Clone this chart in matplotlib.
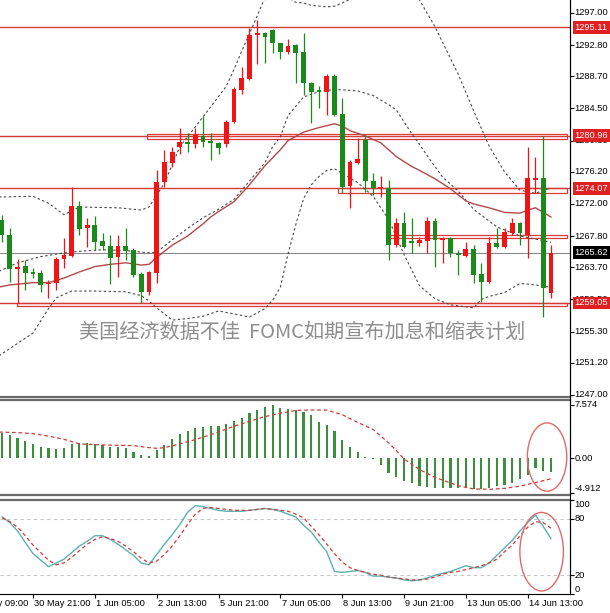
import numpy as np
import matplotlib
matplotlib.use('Agg')
from matplotlib import pyplot as plt
from matplotlib.patches import Rectangle, Ellipse
from matplotlib.lines import Line2D

plt.rcParams['font.family'] = ['Liberation Sans', 'DejaVu Sans', 'Noto Sans CJK SC']

# ---- price bars (4H), bar index 0 = 30 May 21:00 ----
bars = np.arange(-4, 68)
opens = [1269.90, 1267.94, 1263.49, 1263.88, 1263.09, 1262.96, 1261.52, 1261.65, 1264.80, 1265.19,
         1271.73, 1268.85, 1269.25, 1267.15, 1266.50, 1265.06, 1266.50, 1265.98, 1262.83, 1260.48,
         1262.96, 1274.88, 1277.36, 1279.46, 1280.11, 1279.85, 1280.90, 1280.24, 1279.98, 1279.85,
         1282.73, 1286.92, 1288.36, 1294.12, 1294.38, 1294.77, 1293.07, 1291.89, 1292.81, 1291.89,
         1287.84, 1286.92, 1286.66, 1288.75, 1283.78, 1274.35, 1277.36, 1280.37, 1275.01, 1274.09,
         1274.09, 1266.63, 1269.51, 1267.15, 1266.89, 1267.15, 1269.77, 1267.28, 1267.55, 1265.58,
         1265.19, 1266.11, 1262.83, 1261.79, 1266.89, 1266.37, 1268.20, 1269.51, 1267.94, 1275.14,
         1275.40, 1260.35]
highs = [1270.56, 1268.85, 1264.80, 1264.67, 1263.62, 1263.36, 1262.05, 1265.06, 1267.55, 1274.22,
         1272.39, 1270.16, 1270.43, 1268.20, 1267.94, 1267.94, 1268.85, 1266.24, 1263.09, 1263.23,
         1276.45, 1279.06, 1279.46, 1281.95, 1281.29, 1281.95, 1283.52, 1281.29, 1280.11, 1282.99,
         1287.31, 1289.93, 1295.03, 1296.08, 1294.51, 1294.90, 1293.11, 1293.59, 1292.94, 1294.38,
         1287.97, 1287.44, 1289.01, 1289.01, 1285.87, 1277.76, 1280.63, 1281.03, 1276.05, 1275.66,
         1275.14, 1270.16, 1270.95, 1270.16, 1267.68, 1270.29, 1270.16, 1267.68, 1267.68, 1265.98,
         1267.02, 1266.63, 1264.27, 1267.68, 1268.85, 1268.85, 1270.16, 1269.64, 1279.46, 1278.15,
         1280.96, 1266.63]
lows = [1267.02, 1261.79, 1259.10, 1260.74, 1262.31, 1260.48, 1259.69, 1260.74, 1263.62, 1265.00,
        1267.94, 1266.37, 1265.98, 1265.98, 1261.52, 1262.44, 1264.67, 1262.44, 1259.03, 1260.09,
        1261.65, 1274.22, 1276.84, 1278.54, 1278.80, 1279.33, 1279.46, 1277.76, 1278.54, 1279.46,
        1282.60, 1286.40, 1288.20, 1290.32, 1290.45, 1291.76, 1290.98, 1291.63, 1287.84, 1286.27,
        1282.60, 1284.56, 1283.65, 1283.50, 1273.44, 1271.47, 1277.23, 1273.57, 1273.17, 1272.91,
        1264.67, 1266.37, 1266.24, 1265.58, 1266.50, 1265.58, 1263.75, 1264.27, 1265.06, 1262.70,
        1265.06, 1261.65, 1259.17, 1261.65, 1266.24, 1266.24, 1267.94, 1266.63, 1264.93, 1273.44,
        1257.20, 1259.69]
closes = [1267.94, 1263.49, 1263.75, 1262.96, 1262.83, 1261.39, 1261.65, 1264.80, 1265.32, 1271.73,
          1268.72, 1269.25, 1267.02, 1266.50, 1264.93, 1266.50, 1265.84, 1262.70, 1260.48, 1263.09,
          1274.88, 1277.49, 1278.80, 1280.11, 1279.85, 1281.03, 1280.11, 1279.98, 1279.33, 1282.73,
          1287.05, 1288.49, 1294.12, 1294.38, 1293.86, 1293.07, 1291.89, 1292.68, 1291.76, 1287.84,
          1286.66, 1286.72, 1288.75, 1283.65, 1274.22, 1277.49, 1277.89, 1275.01, 1274.09, 1274.22,
          1266.63, 1269.51, 1266.37, 1266.89, 1267.28, 1269.77, 1267.28, 1267.55, 1265.58, 1265.32,
          1266.11, 1262.70, 1261.79, 1266.89, 1266.37, 1268.33, 1269.51, 1268.20, 1275.40, 1275.45,
          1261.00, 1265.62]

# ---- band lines (bar index, price) ----
upper_at = [-5, 0, 2, 4, 6, 11, 14, 15, 17, 19, 22, 25, 26, 27, 28, 29, 30, 31, 32, 33, 34, 35, 36,
            37, 38, 39, 40, 41, 43, 45, 47, 49, 50, 52, 55, 57, 59, 61, 63, 65, 67]
upper_val = [1272.9, 1273.0, 1272.1, 1270.6, 1271.6, 1271.5, 1271.2, 1271.6, 1274.7, 1279.5, 1283.4,
             1287.4, 1289.6, 1292.0, 1294.3, 1296.6, 1299.0, 1300.0, 1299.8, 1299.0, 1298.4, 1298.3,
             1298.0, 1297.9, 1297.8, 1297.9, 1298.3, 1298.8, 1300.5, 1301.5, 1301.3, 1300.0, 1298.7,
             1295.2, 1289.0, 1284.2, 1279.6, 1276.2, 1273.8, 1273.4, 1274.1]
inner_at = [-5, -2, 1, 4, 6, 9, 12, 15, 16, 18, 20, 22, 24, 26, 28, 30, 31, 32, 33, 35, 37, 39, 42,
            44, 46, 47, 49, 50, 51, 53, 55, 57, 60, 63, 65, 67]
inner_val = [1262.9, 1264.3, 1265.1, 1265.6, 1265.8, 1266.0, 1265.9, 1265.6, 1265.7, 1267.3, 1268.8,
             1270.2, 1271.3, 1272.6, 1275.0, 1277.4, 1279.5, 1280.8, 1283.6, 1286.0, 1286.7, 1287.0,
             1286.8, 1286.2, 1285.0, 1284.3, 1281.2, 1279.8, 1278.3, 1275.5, 1273.7, 1271.3, 1269.0,
             1267.8, 1267.4, 1267.0]
lower_at = [-5, -4, 0, 2, 3, 5, 8, 12, 14, 15, 16, 18, 20, 22, 24, 26, 28, 30, 31, 32, 33, 34, 35,
            36, 37, 38, 39, 40, 42, 44, 46, 48, 50, 52, 54, 57, 58, 59, 61, 63, 65, 67]
lower_val = [1251.7, 1252.4, 1255.1, 1258.3, 1259.7, 1260.6, 1260.6, 1260.5, 1260.0, 1259.3, 1258.4,
             1256.8, 1257.0, 1257.3, 1258.0, 1257.6, 1257.2, 1258.3, 1259.4, 1261.1, 1265.5, 1269.3,
             1272.7, 1274.5, 1275.6, 1276.4, 1276.6, 1276.0, 1274.8, 1273.0, 1270.0, 1265.4, 1261.3,
             1259.6, 1258.8, 1258.4, 1259.5, 1259.9, 1260.4, 1261.6, 1261.4, 1261.1]
ma_at = [-5, -3, 0, 2, 4, 6, 8, 10, 12, 14, 15, 16, 18, 20, 22, 23, 24, 26, 28, 30, 32, 33, 35, 37,
         39, 40, 41, 43, 45, 47, 49, 50, 52, 54, 56, 57, 59, 61, 63, 64, 65, 66, 67]
ma_val = [1261.0, 1261.4, 1261.7, 1261.7, 1262.3, 1263.1, 1263.8, 1264.1, 1264.3, 1264.0, 1264.1,
          1265.0, 1266.6, 1267.8, 1269.4, 1270.3, 1271.0, 1272.3, 1274.5, 1277.0, 1279.1, 1280.3,
          1281.4, 1282.0, 1282.5, 1282.2, 1281.6, 1280.9, 1280.0, 1278.2, 1276.9, 1276.4, 1275.3,
          1274.0, 1272.4, 1272.0, 1271.5, 1270.9, 1270.8, 1271.2, 1271.5, 1270.9, 1270.3]

# ---- levels drawn by hand on the chart ----
level_lines = [1295.11, 1280.96, 1274.07, 1259.05]
last_price = 1265.62
zone_start = [14.7, 39.5, 46.2, -2.1]
zone_low = [1280.45, 1273.40, 1267.55, 1258.62]
zone_high = [1281.15, 1274.07, 1267.95, 1259.05]
price_ticks = [1297.00, 1292.80, 1288.70, 1284.50, 1280.30, 1276.20, 1272.00,
               1267.80, 1263.70, 1259.50, 1255.30, 1251.20, 1247.00]
note = '美国经济数据不佳  FOMC如期宣布加息和缩表计划'

# ---- MACD ----
macd_hist = [3.55, 3.32, 2.94, 2.46, 2.04, 1.66, 1.42, 1.33, 1.52, 1.99, 2.13, 2.13, 1.99, 1.90,
             1.66, 1.66, 1.42, 0.95, 0.47, 0.33, 1.18, 1.90, 2.75, 3.46, 3.93, 4.36, 4.50, 4.64,
             4.64, 4.83, 5.31, 5.78, 6.40, 6.87, 7.30, 7.574, 7.20, 7.01, 6.87, 6.60, 6.20, 5.12,
             4.74, 3.89, 2.61, 1.66, 0.85, 0.24, -0.10, -0.95, -2.13, -2.61, -3.18, -3.55, -3.89,
             -4.03, -4.17, -4.17, -4.20, -4.27, -4.20, -4.30, -4.35, -4.20, -3.95, -3.84, -3.46,
             -2.89, -2.40, -1.33, -1.80, -1.94]
macd_sig_at = [-5, -2, 0, 2, 4, 6, 9, 13, 15, 16, 17, 19, 21, 23, 25, 26, 28, 30, 32, 34, 36, 38,
               40, 42, 44, 46, 47, 48, 50, 52, 55, 57, 59, 61, 63, 65, 67]
macd_sig = [3.75, 3.65, 3.50, 3.15, 2.70, 2.05, 1.90, 1.80, 1.52, 1.42, 1.50, 2.05, 2.66, 3.35,
            4.15, 4.55, 5.25, 5.92, 6.40, 6.80, 6.87, 6.85, 6.20, 5.10, 4.10, 2.20, 1.10, -0.10,
            -1.60, -2.70, -3.89, -4.35, -4.40, -4.27, -3.95, -3.45, -2.90]
macd_max, macd_min = 7.574, -4.912

# ---- Stochastic ----
stoch_k = [82, 76, 67, 55, 43, 36, 29, 33, 37, 44, 51, 56, 62, 62, 58, 53, 47, 41, 33, 31,
           42, 53, 63, 74, 87, 94, 93, 91, 89, 88, 88, 88, 89, 90, 91, 90, 88, 85, 82, 73,
           66, 55, 45, 24, 23, 24, 25, 23, 19, 19, 18, 17, 15, 14, 15, 17, 20, 22, 24, 27,
           30, 28, 28, 33, 41, 49, 57, 67, 76, 84, 72, 59]
stoch_d = [81, 77, 71, 62, 52, 44, 36, 31, 33, 39, 46, 53, 58, 61, 59, 56, 51, 45, 38, 33,
           35, 42, 51, 62, 74, 85, 91, 92, 91, 90, 89, 89, 89, 90, 91, 90, 89, 88, 85, 81,
           72, 63, 53, 43, 34, 28, 25, 23, 21, 20, 18, 17, 16, 15, 15, 16, 18, 21, 23, 24,
           26, 28, 30, 33, 37, 45, 52, 62, 71, 77, 76, 70]

time_at = [-8, 0, 8, 16, 24, 32, 40, 48, 56, 64]
time_labels = ['29 May 09:00', '30 May 21:00', '1 Jun 05:00', '2 Jun 13:00', '5 Jun 21:00',
               '7 Jun 05:00', '8 Jun 13:00', '9 Jun 21:00', '13 Jun 05:00', '14 Jun 13:00']

UP = '#f01414'
DOWN = '#1b8a1b'
LINE_RED = '#d83a3a'
SEP = '#6a6a6a'
FS = 6.7

W, H = 610, 613


def px_axes(top, bottom, right=570):
    return [0, 1 - bottom / H, right / W, (bottom - top) / H]


def style_panel(ax):
    ax.set_facecolor('white')
    ax.spines['left'].set_visible(False)
    ax.spines['right'].set_color('black')
    ax.spines['right'].set_linewidth(0.8)
    for s in ('top', 'bottom'):
        ax.spines[s].set_color(SEP)
        ax.spines[s].set_linewidth(1.6)
    ax.set_xlim(-4.27, 69.47)
    ax.set_xticks([])
    ax.yaxis.tick_right()
    ax.tick_params(axis='y', right=True, left=False, labelright=False, labelleft=False,
                   length=3, width=0.8, color='black')


def right_label(ax, y, text, fc=None, color='black', va='center'):
    kw = {}
    if fc is not None:
        kw['bbox'] = dict(boxstyle='square,pad=0.2', fc=fc, ec='none')
    ax.text(1.008, y, text, transform=ax.get_yaxis_transform(), ha='left', va=va,
            fontsize=FS, color=color, clip_on=False, zorder=6, **kw)


fig = plt.figure(figsize=(W / 100, H / 100), dpi=100)
fig.patch.set_facecolor('white')

# ================= main price panel =================
ax = fig.add_axes(px_axes(0, 397))
style_panel(ax)
ax.spines['top'].set_visible(False)
ax.set_ylim(1246.73, 1298.70)

for lvl in level_lines:
    ax.axhline(lvl, color=LINE_RED, lw=1.0, zorder=1.5)
ax.axhline(last_price, color='#8a8a8a', lw=0.8, zorder=1.5)
x_right = 69.1
for xs, lo, hi in zip(zone_start, zone_low, zone_high):
    ax.add_patch(Rectangle((xs, lo), x_right - xs, hi - lo, fill=False,
                           ec=LINE_RED, lw=0.9, zorder=1.6))

dash = (0, (2.2, 2.2))
ax.plot(upper_at, upper_val, color='#4a4a4a', lw=0.8, ls=dash, zorder=2)
ax.plot(inner_at, inner_val, color='#4a4a4a', lw=0.8, ls=dash, zorder=2)
ax.plot(lower_at, lower_val, color='#4a4a4a', lw=0.8, ls=dash, zorder=2)
ax.plot(ma_at, ma_val, color='#b04a4a', lw=1.0, zorder=2)

o = np.array(opens)
c = np.array(closes)
cols = [UP if cc >= oo else DOWN for oo, cc in zip(o, c)]
ax.vlines(bars, lows, highs, colors=cols, lw=0.9, zorder=3)
body = np.maximum(np.abs(c - o), 0.14)
ax.bar(bars, body, bottom=np.minimum(o, c), width=0.62, color=cols, lw=0, zorder=3.1)

ax.text(34.8, 1255.2, note, ha='center', va='center', fontsize=14.5, color='#8e8e8e',
        family=['Noto Sans CJK SC', 'DejaVu Sans'], zorder=4)

ax.set_yticks(price_ticks)
for t in price_ticks:
    right_label(ax, t, f'{t:.2f}')
for lvl in level_lines:
    right_label(ax, lvl, f'{lvl:.2f}', fc='#e02020', color='white')
right_label(ax, last_price, f'{last_price:.2f}', fc='black', color='white')

# ================= MACD panel =================
ax2 = fig.add_axes(px_axes(400, 495))
style_panel(ax2)
ax2.set_ylim(-5.21, 8.28)
ax2.bar(bars, macd_hist, width=0.28, color='#3c8f3c', lw=0, zorder=2)
ax2.plot(macd_sig_at, macd_sig, color='#cf3c3c', lw=0.9, ls=(0, (3, 2.2)), zorder=3)
ax2.set_yticks([macd_max, 0, macd_min])
right_label(ax2, macd_max, f'{macd_max:.3f}')
right_label(ax2, 0, '0.00')
right_label(ax2, macd_min, f'{macd_min:.3f}', va='bottom')
ax2.add_patch(Ellipse((bars[-1] - 0.5, 0.18), 5.1, 9.7, fill=False, ec='#e06a6a',
                      lw=1.0, zorder=4, clip_on=False))

# ================= Stochastic panel =================
ax3 = fig.add_axes(px_axes(500, 594))
style_panel(ax3)
ax3.spines['bottom'].set_color('black')
ax3.spines['bottom'].set_linewidth(0.8)
ax3.set_ylim(0, 100)
for lvl in (20, 80):
    ax3.axhline(lvl, color='#c4c4c4', lw=0.8, ls=(0, (3, 3)), zorder=1)
ax3.plot(bars, stoch_k, color='#5cb2b2', lw=1.0, zorder=3)
ax3.plot(bars, stoch_d, color='#cf3c3c', lw=0.9, ls=(0, (3, 2.2)), zorder=3)
ax3.set_yticks([100, 80, 20, 0])
right_label(ax3, 100, '100', va='top')
right_label(ax3, 80, '80')
right_label(ax3, 20, '20')
right_label(ax3, 0, '0', va='bottom')
ax3.add_patch(Ellipse((bars[-1] - 1.2, 45), 5.63, 83.6, fill=False, ec='#e06a6a',
                      lw=1.0, zorder=4, clip_on=False))

ax3.set_xticks([t for t in time_at if t >= -4])
ax3.tick_params(axis='x', bottom=True, labelbottom=False, direction='out', length=3,
                width=0.8, color='black')
for t, lab in zip(time_at, time_labels):
    ax3.text(t + 0.15, -0.05, lab, transform=ax3.get_xaxis_transform(), ha='left', va='top',
             fontsize=FS, color='black', clip_on=False)

# continuous price-scale border
xr = 570 / W
fig.add_artist(Line2D([xr, xr], [1 - 594 / H, 1.0], transform=fig.transFigure,
                      color='black', lw=0.8))

fig.savefig('out.png', dpi=100)
